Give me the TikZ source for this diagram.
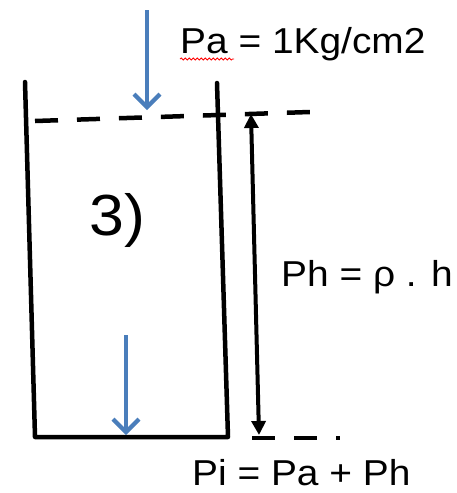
\documentclass[tikz,border=0pt]{standalone}
\usepackage{fontspec}
\setmainfont{Liberation Sans}
\usetikzlibrary{arrows.meta,decorations.pathmorphing}
\definecolor{arrowblue}{RGB}{74,126,187}

\begin{document}
\begin{tikzpicture}[x=1pt,y=-1pt,>=Latex]
  \tikzstyle{wall}=[line width=4.5pt,line cap=round,line join=round]
  \tikzstyle{level}=[line width=4.5pt,dash pattern=on 23pt off 19pt]
  \tikzstyle{force}=[line width=4.2pt,draw=arrowblue,-{Straight Barb[length=13pt,width=26pt]}]
  \tikzstyle{lbl}=[font=\fontsize{36}{40}\selectfont,xscale=1.08,inner sep=0pt,anchor=base west]
  \useasboundingbox (0,0) rectangle (456,493);
  % recipiente
  \draw[wall] (25,82) -- (35,437) -- (228,437) -- (217,83);
  \draw[level] (35,121) -- (310,112);
  \draw[level] (252,438) -- (340,438);
  % fuerzas
  \coordinate (paTop) at (147,10);
  \coordinate (paTip) at (147,110);
  \coordinate (piTop) at (126,335);
  \coordinate (piTip) at (126,435);
  \draw[force] (paTop) -- (paTip);
  \draw[force] (piTop) -- (piTip);
  % altura
  \coordinate (hTop) at (251,114);
  \coordinate (hBot) at (259,435);
  \draw[line width=4pt,{Triangle[length=14pt,width=14pt]}-{Triangle[length=14pt,width=14pt]}] (hTop) -- (hBot);
  % textos
  \node[lbl] (pa) at (180,53) {Pa = 1Kg/cm2};
  \draw[red,line width=0.8pt,decorate,decoration={snake,segment length=4pt,amplitude=1pt}] (180,59) -- (234,59);
  \node[lbl] (ph) at (281,286) {Ph = ρ . h};
  \node[lbl] (pi) at (192,485) {Pi = Pa + Ph};
  \node[lbl,font=\fontsize{58}{64}\selectfont] (num) at (89,235) {3)};
\end{tikzpicture}
\end{document}
